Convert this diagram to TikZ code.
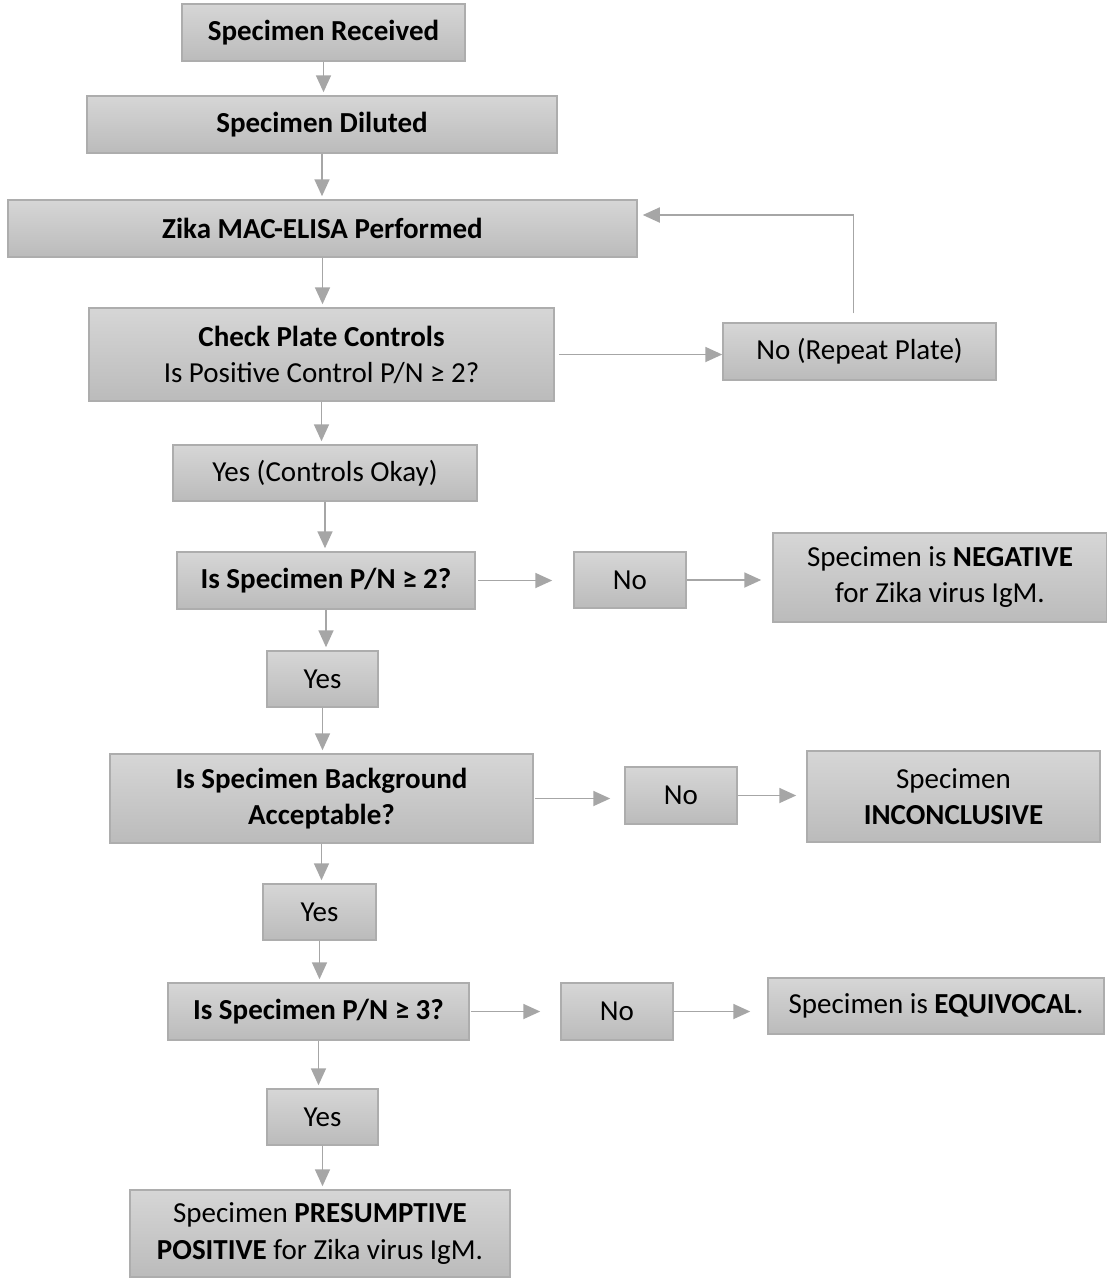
\documentclass[tikz,border=0pt]{standalone}
\usepackage{fontspec}
\setmainfont{Carlito}
\usetikzlibrary{arrows.meta}
\definecolor{boxtop}{HTML}{D6D6D6}
\definecolor{boxbot}{HTML}{BBBBBB}
\definecolor{boxedge}{HTML}{ADADAD}
\definecolor{flowgray}{HTML}{A6A6A6}
\tikzset{
	flowbox/.style 2 args={
			draw=boxedge, line width=1.5pt,
			top color=boxtop, bottom color=boxbot,
			minimum width=#1, minimum height=#2,
			inner sep=0pt, align=center,
			font=\fontsize{29}{36}\selectfont
		},
	flowline/.style={
			draw=flowgray, line width=1.8pt,
			-{Triangle[length=17pt,width=15pt]}, shorten >=3pt
		}
}

\begin{document}
\begin{tikzpicture}[x=1pt,y=-1pt]
        \useasboundingbox (0,0) rectangle (1107,1278);

        % main column
        \node[flowbox={283pt}{57pt}] (recv) at (323.5,32.5) {\textbf{Specimen Received}};
        \node[flowbox={470pt}{57pt}] (dilut) at (322,124.5) {\textbf{Specimen Diluted}};
        \node[flowbox={629pt}{57pt}] (elisa) at (322.5,228.5) {\textbf{Zika MAC-ELISA Performed}};
        \node[flowbox={465pt}{93pt}] (check) at (321.5,354.5) {\textbf{Check Plate Controls}\\Is Positive Control P/N ≥ 2?};
        \node[flowbox={304pt}{56pt}] (okay) at (325,473) {Yes (Controls Okay)};
        \node[flowbox={298pt}{57pt}] (pntwo) at (326,580.5) {\textbf{Is Specimen P/N ≥ 2?}};
        \node[flowbox={111pt}{56pt}] (yesa) at (322.5,679) {Yes};
        \node[flowbox={423pt}{89pt}] (backgr) at (321.5,798.5) {\textbf{Is Specimen Background}\\\textbf{Acceptable?}};
        \node[flowbox={113pt}{56pt}] (yesb) at (319.5,912) {Yes};
        \node[flowbox={301pt}{57pt}] (pnthree) at (318.5,1011.5) {\textbf{Is Specimen P/N ≥ 3?}};
        \node[flowbox={111pt}{56pt}] (yesc) at (322.5,1117) {Yes};
        \node[flowbox={380pt}{87pt}] (posit) at (320,1233.5) {Specimen \textbf{PRESUMPTIVE}\\\textbf{POSITIVE} for Zika virus IgM.};

        % side branches
        \node[flowbox={273pt}{57pt}] (repeat) at (859.5,351.5) {No (Repeat Plate)};
        \node[flowbox={112pt}{56pt}] (noa) at (630,580) {No};
        \node[flowbox={334pt}{89pt}] (negat) at (940,577.5) {Specimen is \textbf{NEGATIVE}\\for Zika virus IgM.};
        \node[flowbox={112pt}{57pt}] (nob) at (681,795.5) {No};
        \node[flowbox={293pt}{91pt}] (inconc) at (953.5,796.5) {Specimen\\\textbf{INCONCLUSIVE}};
        \node[flowbox={112pt}{57pt}] (noc) at (617,1011.5) {No};
        \node[flowbox={336pt}{56pt}] (equiv) at (936,1006) {Specimen is \textbf{EQUIVOCAL}.};

        % downward arrows
        \foreach \a/\b in {recv/dilut, dilut/elisa, elisa/check, check/okay, okay/pntwo,
                pntwo/yesa, yesa/backgr, backgr/yesb, yesb/pnthree, pnthree/yesc, yesc/posit}
            \draw[flowline] (\a.south) -- (\a.south |- \b.north);

        % sideways arrows
        \draw[flowline, shorten <=4pt, shorten >=0pt] (check.east) -- (check.east -| repeat.west);
        \draw[flowline, shorten <=2pt, shorten >=21pt] (pntwo.east) -- (pntwo.east -| noa.west);
        \draw[flowline, shorten >=11pt] (noa.east) -- (noa.east -| negat.west);
        \draw[flowline, shorten <=1pt, shorten >=14pt] (backgr.east) -- (backgr.east -| nob.west);
        \draw[flowline, shorten >=10pt] (nob.east) -- (nob.east -| inconc.west);
        \draw[flowline, shorten <=1pt, shorten >=20pt] (pnthree.east) -- (pnthree.east -| noc.west);
        \draw[flowline, shorten >=17pt] (noc.east) -- (noc.east -| equiv.west);

        % back to the plate
        \draw[flowline, shorten <=9pt, shorten >=5pt] ([xshift=-6pt]repeat.north) |- ([yshift=13.5pt]elisa.east);
    \end{tikzpicture}
\end{document}
